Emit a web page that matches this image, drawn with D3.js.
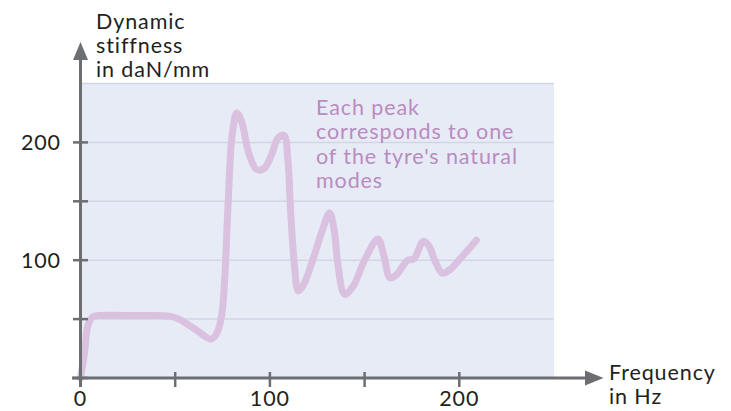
<!DOCTYPE html>
<html><head><meta charset="utf-8">
<script src="https://cdn.jsdelivr.net/npm/d3@7"></script>
<style>
html,body{margin:0;padding:0;background:#fff;}
text{font-family:Lato,"Open Sans",sans-serif;}
</style></head>
<body>
<svg id="chart" width="731" height="411"></svg>
<script>
const freq = [0,2,4,6.5,10,30,47,52,60,69,72,74.5,76,78,80,82.5,85,89,93,97,101,104,107.5,109.5,111,113,115,118,123,128,131.5,134,136,139.5,144,150,157,160,163.5,167,171,173,176,181,184,187,191,195,202,209];
const stiffness = [0,20,45,52,53,53,52.5,50,42,33,38,53,80,150,205,225,218,190,177,178,190,203,206,185,140,95,74,80,102,127,140,125,95,71,78,100,118,105,85,88,97,100,101,116,112,100,89,92,104,117];
const xTicks = [0,50,100,150,200];
const xTickLabels = ["0","","100","","200"];
const yTicks = [0,50,100,150,200];
const yTickLabels = ["","","100","","200"];
const gridValues = [50,100,150,200,250];
const yTitle = ["Dynamic","stiffness","in daN/mm"];
const xTitle = ["Frequency","in Hz"];
const note = ["Each peak","corresponds to one","of the tyre's natural","modes"];

const svg = d3.select("#chart");
const x = d3.scaleLinear().domain([0,250]).range([80.5,554]);
const y = d3.scaleLinear().domain([0,250]).range([378,83.5]);
const axisCol = "#6d6e71", txtCol = "#231f20";
const fs = 21.5, ls = 0.9;

svg.append("rect").attr("x",x(0)).attr("y",y(250)).attr("width",x(250)-x(0)).attr("height",y(0)-y(250)).attr("fill","#e7ebf6");
svg.selectAll("line.grid").data(gridValues).join("line").attr("class","grid")
  .attr("x1",x(0)).attr("x2",x(250)).attr("y1",d=>y(d)).attr("y2",d=>y(d))
  .attr("stroke","#d2d6e4").attr("stroke-width",1.5);

// curve
const pts = freq.map((f,i)=>[f,stiffness[i]]);
svg.append("path").datum(pts)
  .attr("d",d3.line().x(d=>x(d[0])).y(d=>y(d[1])).curve(d3.curveCatmullRom.alpha(0.5)))
  .attr("fill","none").attr("stroke","#d9c1df").attr("stroke-width",7)
  .attr("stroke-linecap","round").attr("stroke-linejoin","round");

// axes
svg.append("line").attr("x1",x(0)).attr("x2",x(0)).attr("y1",387).attr("y2",58)
  .attr("stroke",axisCol).attr("stroke-width",3);
svg.append("path").attr("d",`M${x(0)-7.5},60 L${x(0)},42 L${x(0)+7.5},60 Z`).attr("fill",axisCol);
svg.append("line").attr("x1",72).attr("x2",587).attr("y1",y(0)).attr("y2",y(0))
  .attr("stroke",axisCol).attr("stroke-width",3);
svg.append("path").attr("d",`M585,${y(0)-7.5} L603.5,${y(0)} L585,${y(0)+7.5} Z`).attr("fill",axisCol);

svg.selectAll("line.yt").data(yTicks).join("line").attr("class","yt")
  .attr("x1",x(0)-7.5).attr("x2",x(0)+7.5).attr("y1",d=>y(d)).attr("y2",d=>y(d))
  .attr("stroke",axisCol).attr("stroke-width",2.5);
svg.selectAll("line.xt").data(xTicks).join("line").attr("class","xt")
  .attr("x1",d=>x(d)).attr("x2",d=>x(d)).attr("y1",372).attr("y2",387)
  .attr("stroke",axisCol).attr("stroke-width",2.5);

svg.selectAll("text.yl").data(yTicks).join("text").attr("class","yl")
  .attr("x",61).attr("y",d=>y(d)+7.5).attr("text-anchor","end")
  .attr("font-size",fs).attr("letter-spacing",ls).attr("fill",txtCol).text((d,i)=>yTickLabels[i]);
svg.selectAll("text.xl").data(xTicks).join("text").attr("class","xl")
  .attr("x",d=>x(d)).attr("y",406).attr("text-anchor","middle")
  .attr("font-size",fs).attr("letter-spacing",ls).attr("fill",txtCol).text((d,i)=>xTickLabels[i]);

svg.selectAll("text.yti").data(yTitle).join("text").attr("class","yti")
  .attr("x",96).attr("y",(d,i)=>29+i*24).attr("font-size",fs).attr("letter-spacing",ls).attr("fill",txtCol).text(d=>d);
svg.selectAll("text.xti").data(xTitle).join("text").attr("class","xti")
  .attr("x",609).attr("y",(d,i)=>380+i*24).attr("font-size",fs).attr("letter-spacing",ls).attr("fill",txtCol).text(d=>d);
svg.selectAll("text.note").data(note).join("text").attr("class","note")
  .attr("x",316).attr("y",(d,i)=>115+i*24.3).attr("font-size",fs).attr("letter-spacing",ls).attr("fill","#b98bc1").text(d=>d);
</script>
</body></html>
